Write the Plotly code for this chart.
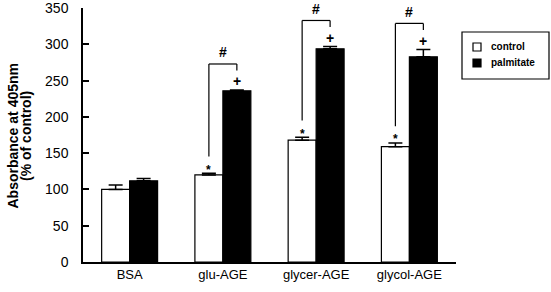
import plotly.graph_objects as go

categories = ["BSA", "glu-AGE", "glycer-AGE", "glycol-AGE"]
control = [100, 120, 168, 159]
control_err = [6, 2.5, 4, 5]
palmitate = [112, 236, 294, 283]
palmitate_err = [3, 1, 3, 10]
ctl_sig = ["", "*", "*", "*"]
pal_sig = ["", "+", "+", "+"]
pair_sig = ["", "#", "#", "#"]
series_names = ["control", "palmitate"]
y_ticks = [0, 50, 100, 150, 200, 250, 300, 350]

FONT = "Liberation Sans, Arial, sans-serif"
W, H = 551, 292
L, R, T, B = 83, 456, 8, 262


def pxx(px):
    return (px - L) / (R - L)


def pxy(py):
    return (B - py) / (B - T)


fig = go.Figure()
fig.add_trace(go.Bar(
    x=categories, y=control, name=series_names[0],
    marker=dict(color="white", line=dict(color="black", width=1.2)),
    error_y=dict(type="data", array=control_err, arrayminus=[0] * 4, symmetric=False,
                 color="black", thickness=1.5, width=7),
    showlegend=False,
))
fig.add_trace(go.Bar(
    x=categories, y=palmitate, name=series_names[1],
    marker=dict(color="black", line=dict(color="black", width=1.2)),
    error_y=dict(type="data", array=palmitate_err, arrayminus=[0] * 4, symmetric=False,
                 color="black", thickness=1.5, width=7),
    showlegend=False,
))

shapes = []
annotations = []
off = 0.15
for i, cat in enumerate(categories):
    ctop = control[i] + control_err[i]
    ptop = palmitate[i] + palmitate_err[i]
    if ctl_sig[i]:
        annotations.append(dict(x=i - off, y=ctop + 5, xref="x", yref="y", text="<b>" + ctl_sig[i] + "</b>",
                                showarrow=False, font=dict(size=12, color="black", family=FONT),
                                yanchor="middle"))
    if pal_sig[i]:
        annotations.append(dict(x=i + off, y=ptop + 12, xref="x", yref="y", text="<b>" + pal_sig[i] + "</b>",
                                showarrow=False, font=dict(size=14, color="black", family=FONT),
                                yanchor="middle"))
    if pair_sig[i]:
        top = ptop + 36
        ln = dict(color="black", width=1.2)
        shapes.append(dict(type="line", xref="x", yref="y", x0=i - off, x1=i - off,
                           y0=ctop + 23, y1=top, line=ln))
        shapes.append(dict(type="line", xref="x", yref="y", x0=i - off, x1=i + off,
                           y0=top, y1=top, line=ln))
        shapes.append(dict(type="line", xref="x", yref="y", x0=i + off, x1=i + off,
                           y0=top, y1=ptop + 27, line=ln))
        annotations.append(dict(x=i, y=ptop + 52, xref="x", yref="y", text="<b>" + pair_sig[i] + "</b>",
                                showarrow=False, font=dict(size=14, color="black", family=FONT),
                                yanchor="middle"))

# custom legend
shapes.append(dict(type="rect", xref="paper", yref="paper", x0=pxx(462), x1=pxx(549),
                   y0=pxy(79), y1=pxy(32), line=dict(color="black", width=1.2), fillcolor="white"))
legend_fill = ["white", "black"]
legend_y = [47, 63]
for name, fill, ly in zip(series_names, legend_fill, legend_y):
    shapes.append(dict(type="rect", xref="paper", yref="paper", x0=pxx(473), x1=pxx(481),
                       y0=pxy(ly + 4), y1=pxy(ly - 4), line=dict(color="black", width=1.2),
                       fillcolor=fill))
    annotations.append(dict(x=pxx(489), y=pxy(ly), xref="paper", yref="paper",
                            text="<b>" + name + "</b>", showarrow=False, xanchor="left",
                            yanchor="middle", font=dict(size=10, color="black", family=FONT)))

# y-axis title (two tight lines)
annotations.append(dict(x=pxx(12.5), y=pxy(136), xref="paper", yref="paper",
                        text="<b>Absorbance at 405nm</b>", textangle=-90, showarrow=False,
                        xanchor="center", yanchor="middle",
                        font=dict(size=14, color="black", family=FONT)))
annotations.append(dict(x=pxx(26), y=pxy(136), xref="paper", yref="paper",
                        text="<b>(% of control)</b>", textangle=-90, showarrow=False,
                        xanchor="center", yanchor="middle",
                        font=dict(size=14, color="black", family=FONT)))

fig.update_layout(
    width=W, height=H,
    margin=dict(l=L, r=W - R, t=T, b=H - B, pad=0, autoexpand=False),
    paper_bgcolor="white", plot_bgcolor="white",
    barmode="group", bargap=0.4, bargroupgap=0,
    font=dict(family=FONT, color="black"),
    shapes=shapes, annotations=annotations,
    showlegend=False,
    xaxis=dict(range=[-0.5, 3.5], showline=True, linecolor="black", linewidth=1.5,
               ticks="", showgrid=False, zeroline=False, automargin=False,
               tickfont=dict(size=13, color="black", family=FONT)),
    yaxis=dict(range=[0, 350.2], tickvals=y_ticks, showline=True, linecolor="black", linewidth=1.5,
               ticks="inside", ticklen=6, tickwidth=1.5, tickcolor="black",
               showgrid=False, zeroline=False, ticklabelstandoff=10, automargin=False,
               ticklabeloverflow="allow",
               tickfont=dict(size=14, color="black", family=FONT)),
)

fig.write_html("out.html", config={"displayModeBar": False},
               post_script="document.body.style.margin='0';document.body.style.padding='0';")
